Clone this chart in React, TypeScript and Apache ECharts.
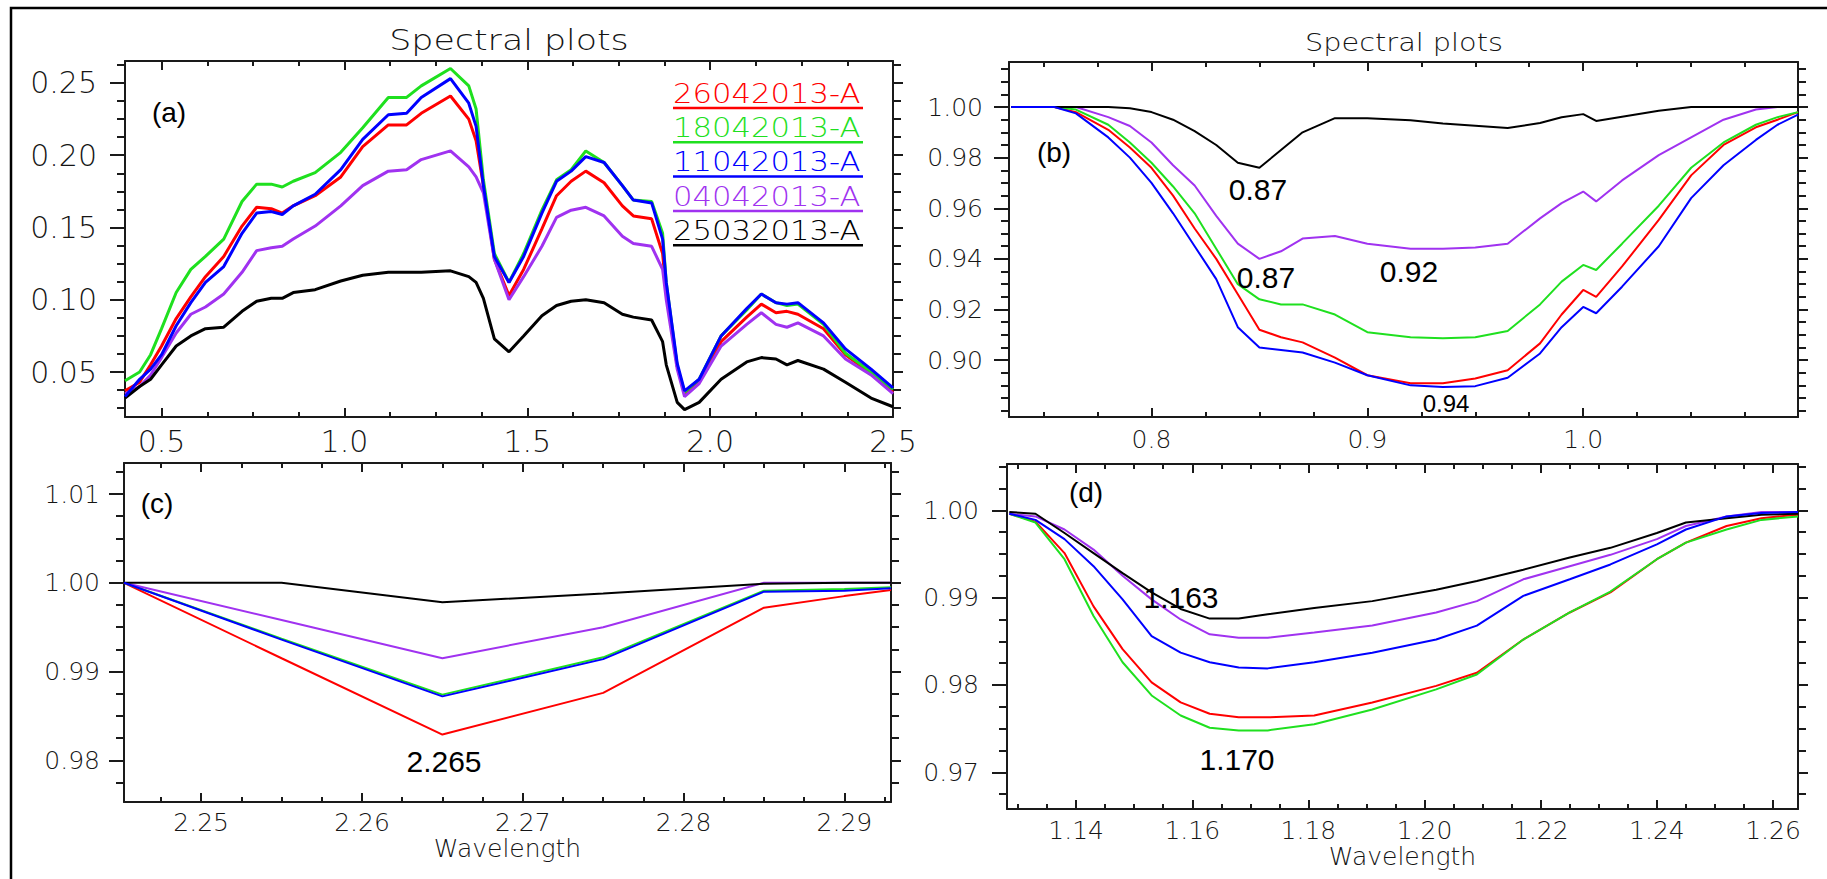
import React, { useEffect, useRef } from "react";
import * as echarts from "echarts";

const NAMES = ["26042013-A", "18042013-A", "11042013-A", "04042013-A", "25032013-A"];
const COLORS = ["#ff0000", "#1fe01f", "#0000ff", "#a032f0", "#000000"];

// Panel (a)
const waveA = [0.40, 0.44, 0.47, 0.50, 0.54, 0.58, 0.62, 0.67, 0.72, 0.76, 0.80, 0.83, 0.86, 0.92, 0.99, 1.05, 1.12, 1.17, 1.21, 1.29, 1.34, 1.36, 1.38, 1.41, 1.45, 1.49, 1.54, 1.58, 1.62, 1.66, 1.71, 1.76, 1.79, 1.84, 1.87, 1.88, 1.91, 1.93, 1.97, 2.03, 2.10, 2.14, 2.18, 2.21, 2.24, 2.31, 2.37, 2.44, 2.50];
const a26 = [0.037, 0.043, 0.055, 0.068, 0.087, 0.102, 0.116, 0.130, 0.151, 0.164, 0.163, 0.160, 0.165, 0.172, 0.185, 0.206, 0.221, 0.221, 0.229, 0.241, 0.225, 0.210, 0.179, 0.128, 0.103, 0.121, 0.149, 0.172, 0.182, 0.189, 0.181, 0.165, 0.158, 0.156, 0.132, 0.105, 0.054, 0.035, 0.043, 0.071, 0.088, 0.097, 0.091, 0.092, 0.090, 0.080, 0.062, 0.049, 0.036];
const a18 = [0.044, 0.050, 0.062, 0.080, 0.105, 0.121, 0.130, 0.142, 0.168, 0.180, 0.180, 0.178, 0.182, 0.188, 0.202, 0.219, 0.240, 0.240, 0.248, 0.260, 0.248, 0.232, 0.183, 0.132, 0.112, 0.132, 0.162, 0.183, 0.190, 0.203, 0.195, 0.179, 0.169, 0.168, 0.146, 0.112, 0.054, 0.036, 0.045, 0.075, 0.093, 0.104, 0.098, 0.096, 0.097, 0.083, 0.063, 0.050, 0.038];
const a11 = [0.033, 0.045, 0.052, 0.062, 0.082, 0.098, 0.112, 0.123, 0.146, 0.160, 0.161, 0.159, 0.165, 0.173, 0.190, 0.211, 0.228, 0.229, 0.240, 0.253, 0.236, 0.220, 0.179, 0.130, 0.112, 0.130, 0.160, 0.182, 0.189, 0.199, 0.195, 0.179, 0.169, 0.167, 0.142, 0.112, 0.056, 0.037, 0.045, 0.075, 0.094, 0.104, 0.098, 0.097, 0.098, 0.084, 0.066, 0.052, 0.039];
const a04 = [0.035, 0.040, 0.048, 0.060, 0.077, 0.090, 0.095, 0.104, 0.119, 0.134, 0.136, 0.137, 0.142, 0.151, 0.165, 0.179, 0.189, 0.190, 0.197, 0.203, 0.192, 0.185, 0.174, 0.128, 0.100, 0.116, 0.137, 0.157, 0.162, 0.164, 0.158, 0.144, 0.139, 0.137, 0.121, 0.100, 0.052, 0.033, 0.042, 0.068, 0.083, 0.091, 0.083, 0.081, 0.084, 0.075, 0.059, 0.048, 0.035];
const a25 = [0.032, 0.040, 0.045, 0.055, 0.068, 0.075, 0.080, 0.081, 0.092, 0.099, 0.101, 0.101, 0.105, 0.107, 0.113, 0.117, 0.119, 0.119, 0.119, 0.120, 0.116, 0.112, 0.101, 0.073, 0.064, 0.075, 0.089, 0.096, 0.099, 0.100, 0.098, 0.090, 0.088, 0.086, 0.071, 0.055, 0.029, 0.024, 0.029, 0.045, 0.057, 0.060, 0.059, 0.055, 0.058, 0.052, 0.043, 0.032, 0.026];

// Panel (b)
const waveB = [0.735, 0.755, 0.765, 0.78, 0.79, 0.80, 0.81, 0.82, 0.83, 0.84, 0.85, 0.86, 0.87, 0.885, 0.90, 0.92, 0.935, 0.95, 0.965, 0.98, 0.99, 1.00, 1.006, 1.018, 1.035, 1.05, 1.065, 1.08, 1.09, 1.0995];
const b26 = [1.000, 1.000, 0.998, 0.991, 0.984, 0.976, 0.965, 0.952, 0.940, 0.926, 0.912, 0.909, 0.907, 0.901, 0.894, 0.8908, 0.8908, 0.8927, 0.896, 0.9066, 0.918, 0.9277, 0.925, 0.937, 0.9554, 0.973, 0.985, 0.992, 0.995, 0.998];
const b18 = [1.000, 1.000, 0.999, 0.993, 0.986, 0.978, 0.9686, 0.958, 0.944, 0.930, 0.924, 0.922, 0.922, 0.918, 0.911, 0.909, 0.9086, 0.909, 0.9115, 0.922, 0.931, 0.9376, 0.9356, 0.946, 0.961, 0.976, 0.986, 0.993, 0.996, 0.998];
const b11 = [1.000, 1.000, 0.9975, 0.988, 0.980, 0.970, 0.958, 0.945, 0.932, 0.913, 0.905, 0.904, 0.903, 0.899, 0.894, 0.890, 0.8894, 0.8897, 0.893, 0.9026, 0.913, 0.921, 0.9185, 0.929, 0.945, 0.964, 0.977, 0.987, 0.993, 0.997];
const b04 = [1.000, 1.000, 1.000, 0.996, 0.9925, 0.986, 0.977, 0.969, 0.957, 0.946, 0.940, 0.943, 0.948, 0.949, 0.946, 0.944, 0.944, 0.9445, 0.946, 0.956, 0.962, 0.9666, 0.9627, 0.971, 0.981, 0.988, 0.995, 0.999, 1.000, 1.000];
const b25 = [1.000, 1.000, 1.000, 1.000, 0.9995, 0.998, 0.995, 0.9905, 0.985, 0.978, 0.976, 0.983, 0.990, 0.9956, 0.9956, 0.9948, 0.9935, 0.9926, 0.9917, 0.9937, 0.996, 0.9972, 0.9945, 0.9962, 0.9985, 1.000, 1.000, 1.000, 1.000, 1.000];

// Panel (c)
const waveC = [2.2452, 2.255, 2.265, 2.275, 2.285, 2.29, 2.2929];
const c26 = [1.000, 0.9915, 0.9829, 0.9876, 0.9972, 0.9985, 0.9992];
const c18 = [1.000, 0.9937, 0.9874, 0.9916, 0.9991, 0.9993, 0.9995];
const c11 = [1.000, 0.9936, 0.9872, 0.9914, 0.9990, 0.9991, 0.9994];
const c04 = [1.000, 0.9958, 0.9915, 0.9950, 1.000, 1.000, 1.000];
const c25 = [1.000, 1.000, 0.9978, 0.9988, 0.9999, 1.000, 1.000];

// Panel (d)
const waveD = [1.1285, 1.133, 1.138, 1.143, 1.148, 1.153, 1.158, 1.163, 1.168, 1.173, 1.181, 1.191, 1.202, 1.209, 1.217, 1.225, 1.232, 1.240, 1.245, 1.252, 1.258, 1.2643];
const d26 = [0.9996, 0.9987, 0.9951, 0.989, 0.9841, 0.9803, 0.978, 0.9767, 0.9763, 0.9763, 0.9765, 0.978, 0.9799, 0.9814, 0.9852, 0.9883, 0.9906, 0.9944, 0.9963, 0.9982, 0.9991, 0.9995];
const d18 = [0.9996, 0.9986, 0.9944, 0.9879, 0.9826, 0.9788, 0.9765, 0.9751, 0.9748, 0.9748, 0.9755, 0.9772, 0.9795, 0.9812, 0.9852, 0.9883, 0.9907, 0.9944, 0.9963, 0.9978, 0.9989, 0.9993];
const d11 = [0.9996, 0.9989, 0.9967, 0.9936, 0.9898, 0.9856, 0.9837, 0.9826, 0.982, 0.9819, 0.9826, 0.9837, 0.9852, 0.9868, 0.9902, 0.9921, 0.9938, 0.9961, 0.9978, 0.9993, 0.9997, 0.9998];
const d04 = [0.9996, 0.9993, 0.9978, 0.9955, 0.9925, 0.9898, 0.9875, 0.9858, 0.9854, 0.9854, 0.986, 0.9868, 0.9883, 0.9896, 0.9921, 0.9936, 0.9949, 0.9967, 0.9982, 0.9993, 0.9998, 0.9998];
const d25 = [0.9998, 0.9996, 0.9974, 0.9951, 0.9928, 0.9906, 0.9887, 0.9876, 0.9876, 0.9881, 0.9888, 0.9896, 0.9909, 0.9919, 0.9932, 0.9946, 0.9957, 0.9974, 0.9986, 0.9991, 0.9995, 0.9996];

// Tick labels
const ticksAx = [0.5, 1.0, 1.5, 2.0, 2.5];
const ticksAy = [0.05, 0.10, 0.15, 0.20, 0.25];
const ticksBx = [0.8, 0.9, 1.0];
const ticksBy = [0.90, 0.92, 0.94, 0.96, 0.98, 1.00];
const ticksCx = [2.25, 2.26, 2.27, 2.28, 2.29];
const ticksCy = [0.98, 0.99, 1.00, 1.01];
const ticksDx = [1.14, 1.16, 1.18, 1.20, 1.22, 1.24, 1.26];
const ticksDy = [0.97, 0.98, 0.99, 1.00];

const AX = "#1a1a1a";
const LBL = "#151515";
const TICKFONT = "DejaVu Sans";
const THIN = 200;
const ANNFONT = "Liberation Sans";

function minorVals(min: number, max: number, step: number, majors: number[]) {
  const out: number[] = [];
  for (let k = Math.ceil(min / step - 1e-9); k * step <= max + 1e-9; k++) {
    const v = +(k * step).toFixed(6);
    if (!majors.some((m) => Math.abs(m - v) < step / 10)) out.push(v);
  }
  return out;
}

type Panel = {
  grid: { left: number; top: number; width: number; height: number };
  xMin: number; xMax: number; yMin: number; yMax: number;
  xMajor: number[]; yMajor: number[]; xStep: number; yStep: number;
  xDec: number; yDec: number; fs: number; xMargin: number; yMargin: number;
  xName?: string; nameGap?: number; lw: number;
  wave: number[]; series: number[][];
};

const panels: Panel[] = [
  { grid: { left: 125, top: 61, width: 768, height: 356 }, xMin: 0.4, xMax: 2.5, yMin: 0.0189, yMax: 0.2652,
    xMajor: ticksAx, yMajor: ticksAy, xStep: 0.125, yStep: 0.0125, xDec: 1, yDec: 2, fs: 30, xMargin: 9, yMargin: 28,
    lw: 3, wave: waveA, series: [a26, a18, a11, a04, a25] },
  { grid: { left: 1009, top: 62, width: 789, height: 355 }, xMin: 0.734, xMax: 1.0995, yMin: 0.8775, yMax: 1.0178,
    xMajor: ticksBx, yMajor: ticksBy, xStep: 0.025, yStep: 0.005, xDec: 1, yDec: 2, fs: 25, xMargin: 10, yMargin: 26,
    lw: 2, wave: waveB, series: [b26, b18, b11, b04, b25] },
  { grid: { left: 124, top: 463, width: 767, height: 339 }, xMin: 2.2452, xMax: 2.2929, yMin: 0.9753, yMax: 1.0135,
    xMajor: ticksCx, yMajor: ticksCy, xStep: 0.0025, yStep: 0.0025, xDec: 2, yDec: 2, fs: 25, xMargin: 8, yMargin: 24,
    xName: "Wavelength", nameGap: 30, lw: 2, wave: waveC, series: [c26, c18, c11, c04, c25] },
  { grid: { left: 1007, top: 464, width: 791, height: 345 }, xMin: 1.1281, xMax: 1.2643, yMin: 0.9658, yMax: 1.0053,
    xMajor: ticksDx, yMajor: ticksDy, xStep: 0.005, yStep: 0.0025, xDec: 2, yDec: 2, fs: 25, xMargin: 9, yMargin: 28,
    xName: "Wavelength", nameGap: 31, lw: 2, wave: waveD, series: [d26, d18, d11, d04, d25] },
];

function buildOption() {
  const grids: any[] = [];
  const xAxes: any[] = [];
  const yAxes: any[] = [];
  const series: any[] = [];
  panels.forEach((p, gi) => {
    grids.push({ ...p.grid, containLabel: false });
    const xMinor = minorVals(p.xMin, p.xMax, p.xStep, p.xMajor);
    const yMinor = minorVals(p.yMin, p.yMax, p.yStep, p.yMajor);
    const base = (min: number, max: number) => ({
      type: "value", gridIndex: gi, min, max, splitLine: { show: false },
    });
    const lineOn = { show: true, onZero: false, lineStyle: { color: AX, width: 2 } };
    const lineOff = { show: false, onZero: false };
    const tick = (vals: number[], inside: boolean, length: number) => ({
      show: true, inside, length, customValues: vals, lineStyle: { color: AX, width: 2 },
    });
    const noLabel = { show: false };
    xAxes.push({
      ...base(p.xMin, p.xMax), position: "bottom", axisLine: lineOn, axisTick: tick(p.xMajor, true, 9),
      axisLabel: { show: true, customValues: p.xMajor, formatter: (v: number) => v.toFixed(p.xDec), margin: p.xMargin,
        fontSize: p.fs, fontFamily: TICKFONT, fontWeight: THIN, color: LBL },
      name: p.xName, nameLocation: "middle", nameGap: p.nameGap,
      nameTextStyle: { fontSize: 25, fontFamily: TICKFONT, fontWeight: THIN, color: LBL },
    });
    xAxes.push({ ...base(p.xMin, p.xMax), position: "bottom", axisLine: lineOff, axisTick: tick(xMinor, true, 5), axisLabel: noLabel });
    xAxes.push({ ...base(p.xMin, p.xMax), position: "top", axisLine: lineOn, axisTick: tick(p.xMajor, true, 9), axisLabel: noLabel });
    xAxes.push({ ...base(p.xMin, p.xMax), position: "top", axisLine: lineOff, axisTick: tick(xMinor, true, 5), axisLabel: noLabel });
    yAxes.push({
      ...base(p.yMin, p.yMax), position: "left", axisLine: lineOn, axisTick: tick(p.yMajor, false, 15),
      axisLabel: { show: true, customValues: p.yMajor, formatter: (v: number) => v.toFixed(p.yDec), margin: p.yMargin,
        fontSize: p.fs, fontFamily: TICKFONT, fontWeight: THIN, color: LBL },
    });
    yAxes.push({ ...base(p.yMin, p.yMax), position: "left", axisLine: lineOff, axisTick: tick(yMinor, false, 8), axisLabel: noLabel });
    yAxes.push({ ...base(p.yMin, p.yMax), position: "right", axisLine: lineOn, axisTick: tick(p.yMajor, false, 10), axisLabel: noLabel });
    yAxes.push({ ...base(p.yMin, p.yMax), position: "right", axisLine: lineOff, axisTick: tick(yMinor, false, 8), axisLabel: noLabel });

    p.series.forEach((ys, si) => {
      series.push({
        type: "line", name: NAMES[si], xAxisIndex: gi * 4, yAxisIndex: gi * 4,
        data: p.wave.map((x, i) => [x, ys[i]]), showSymbol: false, symbol: "none",
        lineStyle: { color: COLORS[si], width: p.lw }, itemStyle: { color: COLORS[si] },
        clip: true, z: 2 + (si === 2 ? 1 : 0),
      });
    });
  });

  const txt = (text: string, x: number, y: number, fontSize: number, opts: any = {}) => ({
    type: "text", x, y, scaleX: opts.scaleX ?? 1,
    style: {
      text, fill: opts.fill ?? "#000", fontSize, fontFamily: opts.font ?? ANNFONT,
      fontWeight: opts.weight ?? "normal",
      textAlign: opts.align ?? "center", align: opts.align ?? "center",
      textVerticalAlign: "middle", verticalAlign: "middle",
    },
    z: 10,
  });

  const graphics: any[] = [
    { type: "rect", shape: { x: 11, y: 8, width: 1900, height: 1000 }, style: { fill: "none", stroke: "#000", lineWidth: 2.5 }, z: 0 },
    txt("Spectral plots", 509, 40, 29, { font: TICKFONT, weight: THIN, fill: LBL, scaleX: 1.2 }),
    txt("Spectral plots", 1404, 42, 25, { font: TICKFONT, weight: THIN, fill: LBL, scaleX: 1.15 }),
    txt("(a)", 169, 112, 28),
    txt("(b)", 1054, 152, 28),
    txt("(c)", 157, 503, 28),
    txt("(d)", 1086, 492, 28),
    txt("0.87", 1258, 189, 30),
    txt("0.87", 1266, 277, 30),
    txt("0.92", 1409, 271, 30),
    txt("0.94", 1446, 403, 24),
    txt("2.265", 444, 761, 30),
    txt("1.163", 1181, 597, 30),
    txt("1.170", 1237, 759, 30),
  ];
  NAMES.forEach((n, i) => {
    const yc = 94 + i * 34.3;
    graphics.push(txt(n, 673, yc, 26, { font: TICKFONT, weight: 300, fill: COLORS[i], align: "left", scaleX: 1.18 }));
    graphics.push({
      type: "line", shape: { x1: 673, y1: yc + 14, x2: 863, y2: yc + 14 },
      style: { stroke: COLORS[i], lineWidth: 2.5 }, z: 10,
    });
  });

  return {
    animation: false,
    backgroundColor: "#ffffff",
    grid: grids,
    xAxis: xAxes,
    yAxis: yAxes,
    series,
    graphic: graphics,
  };
}

export default function App() {
  const ref = useRef<HTMLDivElement>(null);
  useEffect(() => {
    if (!ref.current) return;
    const chart = echarts.init(ref.current, null, { renderer: "svg" });
    chart.setOption(buildOption() as any);
    return () => chart.dispose();
  }, []);
  return (
    <div
      ref={ref}
      style={{ position: "absolute", left: 0, top: 0, width: 1827, height: 879, background: "#fff" }}
    />
  );
}
